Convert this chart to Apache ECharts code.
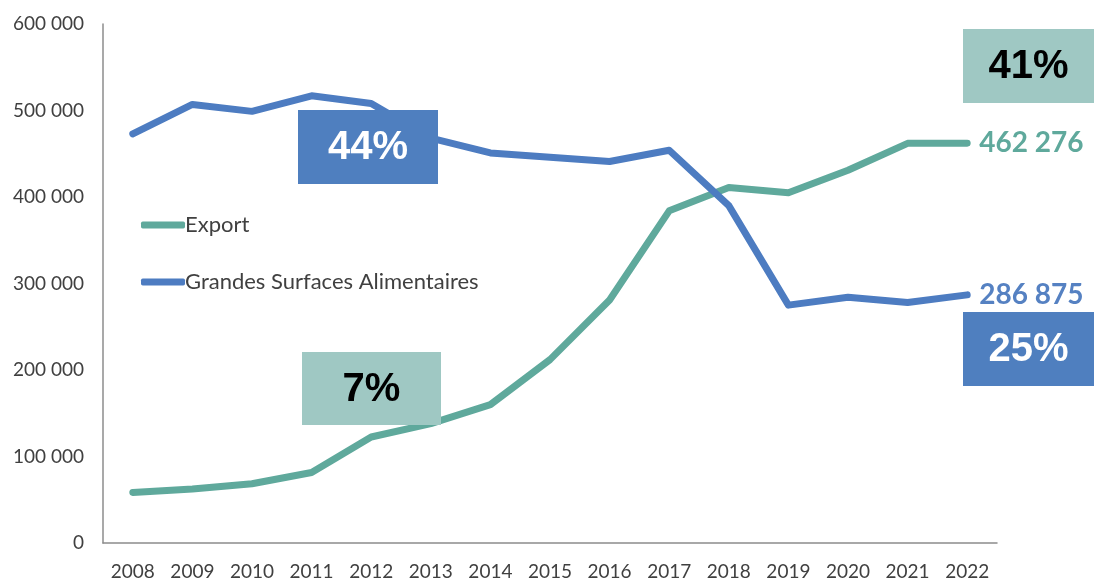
<!DOCTYPE html>
<html>
<head>
<meta charset="utf-8">
<script src="https://cdn.jsdelivr.net/npm/echarts@6/dist/echarts.min.js"></script>
<style>
html,body{margin:0;padding:0;background:#fff;}
#chart{width:1094px;height:581px;}
</style>
</head>
<body>
<div id="chart"></div>
<script>
var years = ['2008','2009','2010','2011','2012','2013','2014','2015','2016','2017','2018','2019','2020','2021','2022'];
var exportValues = [58500, 62500, 68500, 81500, 122500, 138000, 160000, 212000, 281000, 384000, 411000, 405000, 431000, 462000, 462276];
var gsaValues = [473000, 507000, 499000, 517000, 508000, 468000, 451000, 446000, 441000, 454000, 390000, 275000, 284000, 278000, 286875];
var seriesNames = ['Export', 'Grandes Surfaces Alimentaires'];
var yTicks = [0, 100000, 200000, 300000, 400000, 500000, 600000];
var shareLabels = ['44%', '7%', '41%', '25%'];

var teal = '#5fa99c';
var blue = '#4d7cc1';
var tealBox = '#9fc8c3';
var blueBox = '#4f7fbf';

function fmt(v) {
  return String(v).replace(/\B(?=(\d{3})+(?!\d))/g, ' ');
}

var chart = echarts.init(document.getElementById('chart'));

function box(x, y, w, h, fill, text, color) {
  return {
    type: 'group',
    left: x, top: y, z: 100,
    children: [
      {type: 'rect', z: 100, shape: {x: 0, y: 0, width: w, height: h}, style: {fill: fill}},
      {type: 'text', z: 101, style: {
        x: w / 2, y: h / 2 + 1, text: text, fill: color,
        align: 'center', verticalAlign: 'middle',
        fontFamily: '"Liberation Sans", Arial, sans-serif', fontWeight: 'bold', fontSize: 40
      }}
    ]
  };
}

chart.setOption({
  animation: false,
  grid: {left: 103, right: 97, top: 24, bottom: 38},
  legend: {
    orient: 'vertical',
    left: 136,
    top: 207,
    itemWidth: 44,
    itemHeight: 7,
    itemGap: 31,
    icon: 'roundRect',
    textStyle: {fontFamily: 'Lato', fontSize: 22, color: '#404040', lineHeight: 26, padding: [0, 0, 0, -5]},
    data: seriesNames
  },
  xAxis: {
    type: 'category',
    data: years,
    boundaryGap: true,
    axisLine: {lineStyle: {color: '#8c8c8c', width: 1.5}},
    axisTick: {show: false},
    axisLabel: {fontFamily: 'Lato', fontSize: 19, color: '#404040', margin: 19}
  },
  yAxis: {
    type: 'value',
    min: yTicks[0],
    max: yTicks[yTicks.length - 1],
    interval: yTicks[1] - yTicks[0],
    splitLine: {show: false},
    axisLine: {show: true, lineStyle: {color: '#8c8c8c', width: 1.5}},
    axisTick: {show: false},
    axisLabel: {fontFamily: 'Lato', fontSize: 19, color: '#404040', margin: 19, formatter: function (v) { return fmt(v); }}
  },
  series: [
    {
      name: seriesNames[0],
      type: 'line',
      data: exportValues,
      symbol: 'none',
      color: teal,
      lineStyle: {width: 7, cap: 'round', join: 'round', color: teal},
      endLabel: {show: true, distance: 12, formatter: function (p) { return fmt(p.value); }, color: teal, fontFamily: 'Lato', fontWeight: 'bold', fontSize: 28}
    },
    {
      name: seriesNames[1],
      type: 'line',
      data: gsaValues,
      symbol: 'none',
      color: blue,
      lineStyle: {width: 7, cap: 'round', join: 'round', color: blue},
      endLabel: {show: true, distance: 12, formatter: function (p) { return fmt(p.value); }, color: '#5581c2', fontFamily: 'Lato', fontWeight: 'bold', fontSize: 28}
    }
  ],
  graphic: [
    box(298, 110, 140, 74, blueBox, shareLabels[0], '#ffffff'),
    box(302, 352, 139, 73, tealBox, shareLabels[1], '#000000'),
    box(963, 29, 131, 74, tealBox, shareLabels[2], '#000000'),
    box(963, 312, 131, 74, blueBox, shareLabels[3], '#ffffff')
  ]
});
</script>
</body>
</html>
